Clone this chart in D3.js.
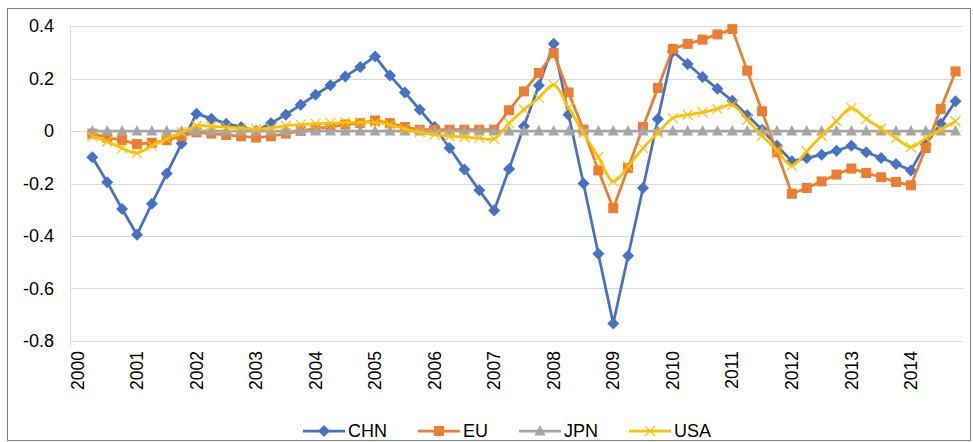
<!DOCTYPE html>
<html>
<head>
<meta charset="utf-8">
<script src="https://cdn.jsdelivr.net/npm/d3@7"></script>
<style>
  body { margin: 0; background: #fff; }
  text { font-family: "Liberation Sans", Arial, sans-serif; fill: #000; }
</style>
</head>
<body>
<svg width="973" height="442"></svg>
<script>
// quarterly categories, 2000Q1 .. 2014Q4 (first quarter has no value)
const years = d3.range(2000, 2015);
const quarters = years.flatMap(y => [1, 2, 3, 4].map(q => y + 'Q' + q));
const yTicks = [0.4, 0.2, 0, -0.2, -0.4, -0.6, -0.8];

const chn = [null, -0.10, -0.195, -0.297, -0.395, -0.277, -0.162, -0.048, 0.066, 0.047, 0.028, 0.015, 0.0, 0.03, 0.062,
  0.10, 0.138, 0.174, 0.208, 0.244, 0.284, 0.211, 0.147, 0.081, 0.015, -0.065, -0.147, -0.226, -0.303, -0.145,
  0.018, 0.173, 0.332, 0.062, -0.200, -0.468, -0.733, -0.475, -0.217, 0.046, 0.303, 0.255, 0.206, 0.161, 0.115,
  0.06, 0.005, -0.056, -0.115, -0.103, -0.09, -0.075, -0.056, -0.081, -0.103, -0.126, -0.150, -0.05, 0.028, 0.113];
const eu = [null, -0.01, -0.025, -0.035, -0.05, -0.045, -0.035, -0.02, -0.005, -0.01, -0.015, -0.02, -0.025, -0.02, -0.01,
  0.0, 0.01, 0.015, 0.025, 0.03, 0.04, 0.03, 0.015, 0.005, 0.005, 0.005, 0.005, 0.005, 0.005, 0.079,
  0.151, 0.221, 0.297, 0.147, 0.005, -0.150, -0.294, -0.141, 0.015, 0.164, 0.313, 0.332, 0.348, 0.368, 0.388,
  0.23, 0.075, -0.081, -0.239, -0.217, -0.192, -0.166, -0.143, -0.160, -0.176, -0.194, -0.207, -0.065, 0.084, 0.227];
const jpn = [null, 0, 0, 0, 0, 0, 0, 0, 0, 0, 0, 0, 0, 0, 0,
  0, 0, 0, 0, 0, 0, 0, 0, 0, 0, 0, 0, 0, 0, 0,
  0, 0, 0, 0, 0, 0, 0, 0, 0, 0, 0, 0, 0, 0, 0,
  0, 0, 0, 0, 0, 0, 0, 0, 0, 0, 0, 0, 0, 0, 0];
const usa = [null, -0.02, -0.04, -0.065, -0.084, -0.056, -0.03, -0.005, 0.02, 0.018, 0.015, 0.011, 0.008, 0.011, 0.02,
  0.024, 0.028, 0.03, 0.033, 0.033, 0.033, 0.024, 0.008, -0.005, -0.014, -0.02, -0.023, -0.027, -0.03, 0.03,
  0.081, 0.126, 0.176, 0.088, -0.008, -0.099, -0.192, -0.135, -0.065, -0.008, 0.049, 0.062, 0.071, 0.084, 0.10,
  0.043, -0.018, -0.074, -0.132, -0.077, -0.018, 0.037, 0.088, 0.046, 0.009, -0.027, -0.062, -0.027, 0.005, 0.037];

const series = [
  {name: 'CHN', values: chn, color: '#4472C4', marker: 'diamond', curve: d3.curveLinear},
  {name: 'EU', values: eu, color: '#ED7D31', marker: 'square', curve: d3.curveLinear},
  {name: 'JPN', values: jpn, color: '#A5A5A5', marker: 'triangle', curve: d3.curveLinear},
  {name: 'USA', values: usa, color: '#FFC000', marker: 'x', curve: d3.curveCatmullRom.alpha(0.5)}
];

const svg = d3.select('svg');
const plotLeft = 70, plotRight = 963, plotTop = 26, plotBottom = 341;

// outer frame
svg.append('rect')
  .attr('x', 7.5).attr('y', 8.5).attr('width', 963).attr('height', 432)
  .attr('fill', 'none').attr('stroke', '#7f7f7f');

const x = d3.scaleBand().domain(quarters).range([plotLeft, plotRight]);
const y = d3.scaleLinear().domain([-0.8, 0.4]).range([plotBottom, plotTop]);
const cx = i => x(quarters[i]) + x.bandwidth() / 2;

// grid
svg.append('g').selectAll('line').data(yTicks).enter().append('line')
  .attr('x1', plotLeft).attr('x2', plotRight)
  .attr('y1', d => Math.round(y(d)) + 0.5).attr('y2', d => Math.round(y(d)) + 0.5)
  .attr('stroke', '#d9d9d9');
svg.append('line').attr('x1', plotLeft + 0.5).attr('x2', plotLeft + 0.5)
  .attr('y1', plotTop).attr('y2', plotBottom + 6).attr('stroke', '#d9d9d9');

// y labels
const yAxis = d3.axisLeft(y).tickValues(yTicks).tickSize(0).tickPadding(0).tickFormat(d => String(+d.toFixed(1)));
svg.append('g').attr('transform', 'translate(54,0)').call(yAxis)
  .call(g => g.select('.domain').remove())
  .selectAll('text').style('font-size', '18px').style('font-family', '"Liberation Sans", Arial, sans-serif').attr('fill', '#000');

// x labels every 4 quarters
const labelIdx = years.map((yr, k) => k * 4);
svg.append('g').selectAll('text').data(labelIdx).enter().append('text')
  .attr('transform', i => `translate(${cx(i)},351) rotate(-90)`)
  .attr('text-anchor', 'end').attr('dy', '0.35em')
  .style('font-size', '17.5px')
  .text((i, k) => years[k]);

function drawMarker(g, type, color, px, py) {
  if (type === 'diamond') {
    g.append('path').attr('d', `M${px},${py - 6}L${px + 6},${py}L${px},${py + 6}L${px - 6},${py}Z`).attr('fill', color);
  } else if (type === 'square') {
    g.append('rect').attr('x', px - 5).attr('y', py - 5).attr('width', 10).attr('height', 10).attr('fill', color);
  } else if (type === 'triangle') {
    g.append('path').attr('d', `M${px},${py - 6}L${px + 5.5},${py + 4.5}L${px - 5.5},${py + 4.5}Z`).attr('fill', color);
  } else {
    g.append('path').attr('d', `M${px - 5},${py - 5}L${px + 5},${py + 5}M${px + 5},${py - 5}L${px - 5},${py + 5}`)
      .attr('stroke', color).attr('stroke-width', 1.2).attr('fill', 'none');
  }
}

series.forEach(s => {
  const pts = s.values.map((v, i) => [i, v]).filter(d => d[1] !== null);
  const line = d3.line().x(d => cx(d[0])).y(d => y(d[1])).curve(s.curve);
  const g = svg.append('g');
  g.append('path').attr('d', line(pts)).attr('fill', 'none')
    .attr('stroke', s.color).attr('stroke-width', 2.75).attr('stroke-linejoin', 'round');
  pts.forEach(d => drawMarker(g, s.marker, s.color, cx(d[0]), y(d[1])));
});

// legend
const legendX = [303, 418, 519, 629];
const leg = svg.append('g');
series.forEach((s, k) => {
  const lx = legendX[k], ly = 431;
  leg.append('line').attr('x1', lx).attr('x2', lx + 42).attr('y1', ly).attr('y2', ly)
    .attr('stroke', s.color).attr('stroke-width', 2.75);
  drawMarker(leg, s.marker, s.color, lx + 21, ly);
  leg.append('text').attr('x', lx + 45).attr('y', ly).attr('dy', '0.35em')
    .style('font-size', '18px').text(s.name);
});
</script>
</body>
</html>
